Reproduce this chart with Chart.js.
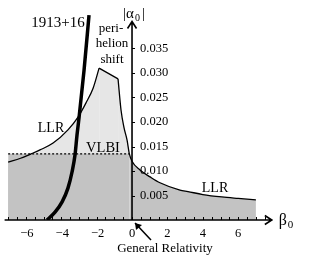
<!DOCTYPE html>
<html>
<head>
<meta charset="utf-8">
<script src="https://cdn.jsdelivr.net/npm/chart.js@4/dist/chart.umd.min.js"></script>
<style>
  body { margin: 0; background: #fff; }
</style>
</head>
<body>
<canvas id="chart" width="310" height="260"></canvas>
<script>
// LLR bound, left branch (beta < 0) up to the perihelion peak
const leftBeta  = [-7, -6.3, -5.7, -5.2, -4.46, -3.62, -3.05, -2.6, -2.2, -1.86];
const leftAlpha = [0.0118, 0.0126, 0.0135, 0.0143, 0.0157, 0.0184, 0.0210, 0.0239, 0.0269, 0.0310];
// perihelion shift bound
const shiftBeta  = [-1.86, -0.79];
const shiftAlpha = [0.0310, 0.0288];
// LLR bound, right branch
const rightBeta  = [-0.79, -0.62, -0.45, -0.28, -0.15, 0, 0.45, 1.02, 1.58, 2.71, 3.16, 4, 5.08, 6, 7];
const rightAlpha = [0.0288, 0.0224, 0.0188, 0.0163, 0.0135, 0.0120, 0.0102, 0.0088, 0.0076, 0.0061, 0.0058, 0.0052, 0.0047, 0.0044, 0.0041];
// VLBI limit
const vlbiAlpha = 0.0135;
const vlbiBeta = [-7, -0.15];
// binary pulsar 1913+16
const psrBeta  = [-4.8, -4.35, -3.95, -3.62, -3.39, -3.22, -3.11, -2.99, -2.71, -2.43];
const psrAlpha = [0, 0.0016, 0.0037, 0.0065, 0.0098, 0.0133, 0.0173, 0.0210, 0.0306, 0.0418];
// tick labels
const xTicks = [-6, -4, -2, 0, 2, 4, 6];
const yTicks = [0.005, 0.010, 0.015, 0.020, 0.025, 0.030, 0.035];

const LIGHT = '#e6e6e6', DARK = '#c3c3c3';
const FONT = 'Liberation Serif';

const pts = (xs, ys) => xs.map((v, i) => ({ x: v, y: ys[i] }));
const below = (xs, ys) => pts(xs, ys).filter(p => p.y <= vlbiAlpha);

const region = (data, color, border) => ({
  data, backgroundColor: color, fill: 'origin', pointRadius: 0,
  borderColor: border ? '#000' : 'rgba(0,0,0,0)', borderWidth: border ? 1.3 : 0,
  cubicInterpolationMode: 'monotone'
});

const axesPlugin = {
  id: 'axes',
  afterDatasetsDraw(chart) {
    const { ctx, scales: { x, y } } = chart;
    const x0 = x.getPixelForValue(0), y0 = y.getPixelForValue(0);
    ctx.save();
    ctx.strokeStyle = '#000';
    ctx.fillStyle = '#000';
    ctx.lineWidth = 1.6;
    // x axis + arrow
    const xEnd = x.getPixelForValue(7.9);
    ctx.beginPath();
    ctx.moveTo(x.getPixelForValue(-7.2), y0); ctx.lineTo(xEnd, y0);
    ctx.moveTo(xEnd - 7, y0 - 4.5); ctx.lineTo(xEnd, y0); ctx.lineTo(xEnd - 7, y0 + 4.5);
    ctx.stroke();
    // y axis + arrow
    const yEnd = y.getPixelForValue(0.0405);
    ctx.beginPath();
    ctx.moveTo(x0, y0); ctx.lineTo(x0, yEnd);
    ctx.moveTo(x0 - 4.5, yEnd + 7); ctx.lineTo(x0, yEnd); ctx.lineTo(x0 + 4.5, yEnd + 7);
    ctx.stroke();
    // minor ticks
    ctx.lineWidth = 1;
    ctx.beginPath();
    for (let b = -7; b <= 7.5; b += 0.5) {
      const px = Math.round(x.getPixelForValue(b)) + 0.5;
      ctx.moveTo(px, y0); ctx.lineTo(px, y0 - 3);
    }
    yTicks.forEach(v => {
      const py = Math.round(y.getPixelForValue(v)) + 0.5;
      ctx.moveTo(x0, py); ctx.lineTo(x0 + 3, py);
    });
    ctx.stroke();
    // tick labels
    ctx.font = '12.5px ' + FONT;
    ctx.textAlign = 'center';
    ctx.textBaseline = 'top';
    xTicks.forEach(v => {
      ctx.fillText(v < 0 ? '\u2212' + (-v) : String(v), x.getPixelForValue(v) + (v < 0 ? 1 : 0), y0 + 7);
    });
    ctx.textAlign = 'left';
    ctx.textBaseline = 'middle';
    yTicks.forEach(v => ctx.fillText(v.toFixed(3), x0 + 8, y.getPixelForValue(v)));
    // axis titles
    ctx.textBaseline = 'alphabetic';
    ctx.font = '15px ' + FONT;
    ctx.fillText('|\u03b1', x0 - 9, 18);
    ctx.fillText('|', x0 + 10, 18);
    ctx.font = '10px ' + FONT;
    ctx.fillText('0', x0 + 3, 21);
    ctx.font = '16px ' + FONT;
    ctx.fillText('\u03b2', xEnd + 7, y0 + 5);
    ctx.font = '11px ' + FONT;
    ctx.fillText('0', xEnd + 16, y0 + 8);
    // annotations
    ctx.textAlign = 'center';
    ctx.font = '15px ' + FONT;
    ctx.fillText('1913+16', 58, 27);
    ctx.font = '13px ' + FONT;
    ctx.fillText('peri-', 111, 32);
    ctx.fillText('helion', 112, 47);
    ctx.fillText('shift', 112, 63);
    ctx.font = '14px ' + FONT;
    ctx.fillText('LLR', 51, 132);
    ctx.fillText('LLR', 215, 192);
    ctx.font = '14.5px ' + FONT;
    ctx.fillText('VLBI', 103, 152);
    ctx.font = '13px ' + FONT;
    ctx.fillText('General Relativity', 165, 252);
    // arrow to the GR point
    ctx.lineWidth = 1.5;
    ctx.beginPath();
    ctx.moveTo(151, 240); ctx.lineTo(x0 + 3, y0 + 3);
    ctx.stroke();
    ctx.beginPath();
    ctx.moveTo(x0 + 3, y0 + 3); ctx.lineTo(x0 + 4, y0 + 10); ctx.lineTo(x0 + 10, y0 + 5);
    ctx.closePath(); ctx.fill();
    ctx.restore();
  }
};

new Chart(document.getElementById('chart'), {
  type: 'line',
  data: {
    datasets: [
      { data: pts(psrBeta, psrAlpha), borderColor: '#000', borderWidth: 3.5, pointRadius: 0, fill: false, cubicInterpolationMode: 'monotone' },
      { data: pts(vlbiBeta, [vlbiAlpha, vlbiAlpha]), borderColor: '#000', borderWidth: 1.3, borderDash: [2, 2], pointRadius: 0, fill: false },
      region(below(leftBeta, leftAlpha), DARK, false),
      region(pts(vlbiBeta, [vlbiAlpha, vlbiAlpha]), DARK, false),
      region(below(rightBeta, rightAlpha), DARK, false),
      region(pts(leftBeta, leftAlpha), LIGHT, true),
      region(pts(shiftBeta, shiftAlpha), LIGHT, true),
      region(pts(rightBeta, rightAlpha), LIGHT, true)
    ]
  },
  options: {
    responsive: false,
    animation: false,
    layout: { padding: { left: 4.6, right: 36.4, top: 9.3, bottom: 40 } },
    scales: {
      x: { type: 'linear', min: -7.2, max: 8, display: false },
      y: { type: 'linear', min: 0, max: 0.043, display: false }
    },
    plugins: {
      legend: { display: false },
      tooltip: { enabled: false },
      filler: { drawTime: 'beforeDatasetsDraw' }
    }
  },
  plugins: [axesPlugin]
});
</script>
</body>
</html>
